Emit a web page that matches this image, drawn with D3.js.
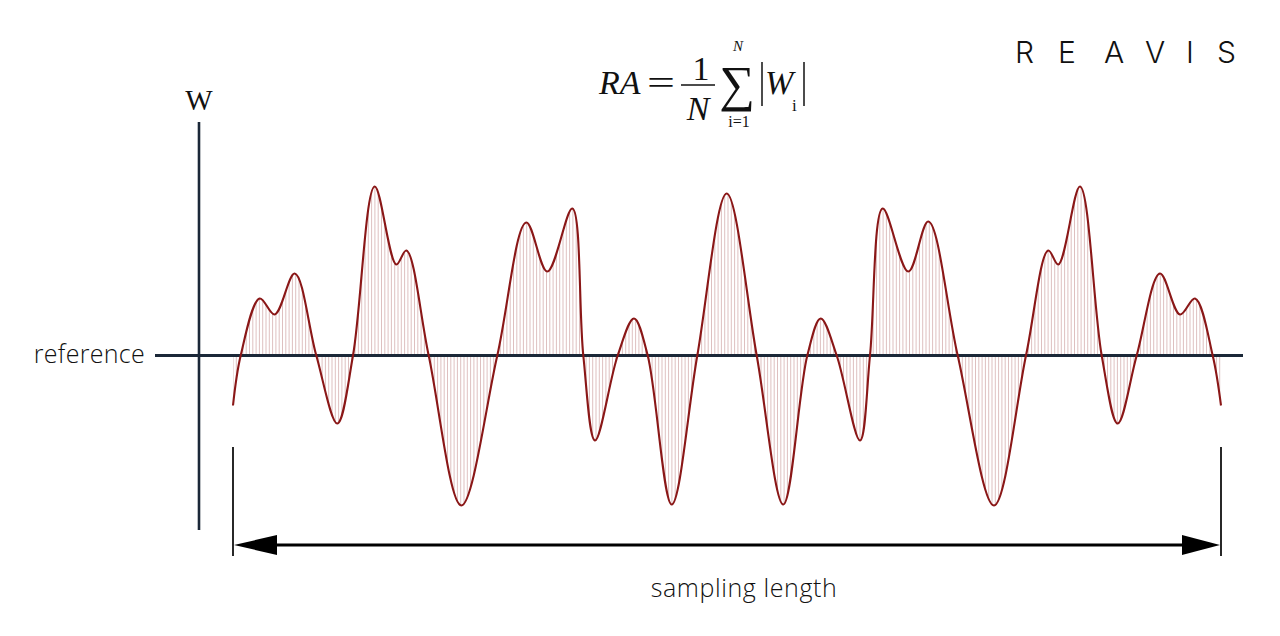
<!DOCTYPE html>
<html><head><meta charset="utf-8">
<script src="https://cdn.jsdelivr.net/npm/d3@7"></script>
<style>html,body{margin:0;padding:0;background:#fff;} svg{display:block}</style>
</head><body>
<svg id="chart" width="1280" height="636"></svg>
<script>
// ---- data: profile samples (distance along sampling length, deviation W from reference) ----
const profileX = [0, 7.7, 26.7, 41.7, 61.7, 83.3, 104.3, 120, 141.7, 163.3, 173.3, 195.7, 228.3, 264.3,
  293.3, 314.3, 339.3, 350.3, 362, 384.7, 401, 414.7, 438.7, 464.3, 493.7, 523.7, 550.3, 574.3,
  587.7, 603.7, 627, 637, 649.7, 675.3, 695.3, 724.7, 761, 793, 815.3, 825.3, 847, 868.7, 884.7,
  903.7, 927, 947, 962, 979.7, 988];
const profileW = [-50, 0, 57, 41, 82, 0, -68, 0, 169, 91, 105, 0, -150, 0,
  133, 84, 147, 0, -85, 0, 37, 0, -149, 0, 162, 0, -149, 0,
  37, 0, -85, 0, 147, 84, 134, 0, -150, 0, 105, 91, 169, 0, -68,
  0, 82, 41, 57, 0, -50];
const labels = { axis: "W", reference: "reference", length: "sampling length", brand: "REAVIS" };

const svg = d3.select("#chart");
const x = d3.scaleLinear().domain([0, 988]).range([233, 1221]);
const y = d3.scaleLinear().domain([-200, 200]).range([555.5, 155.5]);
const data = profileX.map((d, i) => ({ x: d, w: profileW[i] }));
const curve = d3.curveCatmullRom.alpha(0.5);

const ink = "#1b2838";
const waveColor = "#8a1717";

// hatch clip: area between reference and profile
const area = d3.area().x(d => x(d.x)).y0(y(0)).y1(d => y(d.w)).curve(curve);
svg.append("defs").append("clipPath").attr("id", "hatchClip")
  .append("path").attr("d", area(data));

const hatchX = d3.range(x(0), x(988), 3.3);
svg.append("g").attr("clip-path", "url(#hatchClip)")
  .selectAll("line").data(hatchX).join("line")
  .attr("x1", d => d).attr("x2", d => d)
  .attr("y1", 150).attr("y2", 560)
  .attr("stroke", "#c48e8e").attr("stroke-width", 0.8).attr("stroke-opacity", 0.7);

// vertical W axis
svg.append("line").attr("x1", x(-34)).attr("x2", x(-34)).attr("y1", 122).attr("y2", 530)
  .attr("stroke", ink).attr("stroke-width", 2.6);
// reference line
svg.append("line").attr("x1", x(-78)).attr("x2", x(1010)).attr("y1", y(0)).attr("y2", y(0))
  .attr("stroke", ink).attr("stroke-width", 3);

// profile curve
const line = d3.line().x(d => x(d.x)).y(d => y(d.w)).curve(curve);
svg.append("path").attr("d", line(data)).attr("fill", "none")
  .attr("stroke", waveColor).attr("stroke-width", 2.1);

// sampling length dimension
const dimY = 545;
[0, 988].forEach(v => {
  svg.append("line").attr("x1", x(v)).attr("x2", x(v)).attr("y1", 447).attr("y2", 556)
    .attr("stroke", "#111").attr("stroke-width", 1.8);
});
svg.append("line").attr("x1", x(0) + 30).attr("x2", x(988) - 30).attr("y1", dimY).attr("y2", dimY)
  .attr("stroke", "#000").attr("stroke-width", 3);
const xl = x(0) + 1, xr = x(988) - 1;
svg.append("path").attr("d", `M${xl},${dimY} L${xl + 43},${dimY - 10} L${xl + 43},${dimY + 10} Z`).attr("fill", "#000");
svg.append("path").attr("d", `M${xr},${dimY} L${xr - 38},${dimY - 10} L${xr - 38},${dimY + 10} Z`).attr("fill", "#000");

const sans = "'Open Sans', 'Noto Sans', sans-serif";
const serif = "'Liberation Serif', 'Times New Roman', serif";

svg.append("text").attr("x", 744).attr("y", 597).attr("text-anchor", "middle")
  .attr("font-family", sans).attr("font-weight", 300).attr("font-size", 25).attr("letter-spacing", 0.6).attr("fill", "#111")
  .text(labels.length);
svg.append("text").attr("x", 145).attr("y", 363).attr("text-anchor", "end")
  .attr("font-family", sans).attr("font-weight", 300).attr("font-size", 25).attr("letter-spacing", 0.3).attr("fill", "#111")
  .text(labels.reference);
svg.append("text").attr("x", 199).attr("y", 110).attr("text-anchor", "middle")
  .attr("font-family", serif).attr("font-size", 29).attr("fill", "#111")
  .text(labels.axis);

// brand
svg.append("text").attr("x", "1015 1058 1104 1145 1186 1217").attr("y", 63)
  .attr("font-family", "Inter, 'DejaVu Sans', sans-serif").attr("font-weight", 300)
  .attr("font-size", 30).attr("fill", "#111").text(labels.brand);

// formula RA = 1/N sum |W_i|
const f = svg.append("g").attr("font-family", serif).attr("fill", "#111");
f.append("text").attr("x", 599).attr("y", 94).attr("font-size", 34).attr("font-style", "italic").text("RA");
f.append("text").attr("x", 647).attr("y", 94).attr("font-size", 33)
  .attr("textLength", 28).attr("lengthAdjust", "spacingAndGlyphs").text("=");
f.append("text").attr("x", 701).attr("y", 80).attr("font-size", 34).attr("text-anchor", "middle").text("1");
f.append("line").attr("x1", 681).attr("x2", 715).attr("y1", 85).attr("y2", 85).attr("stroke", "#111").attr("stroke-width", 1.5);
f.append("text").attr("x", 698).attr("y", 120).attr("font-size", 34).attr("font-style", "italic").attr("text-anchor", "middle").text("N");
f.append("text").attr("x", 737).attr("y", 101).attr("font-size", 50).attr("text-anchor", "middle").text("∑");
f.append("text").attr("x", 738).attr("y", 51).attr("font-size", 15).attr("font-style", "italic").attr("text-anchor", "middle").text("N");
f.append("text").attr("x", 739).attr("y", 127).attr("font-size", 16).attr("text-anchor", "middle").text("i=1");
f.append("line").attr("x1", 762).attr("x2", 762).attr("y1", 62).attr("y2", 106).attr("stroke", "#111").attr("stroke-width", 1.5);
f.append("text").attr("x", 765).attr("y", 94).attr("font-size", 34).attr("font-style", "italic").text("W");
f.append("text").attr("x", 792).attr("y", 111).attr("font-size", 17).text("i");
f.append("line").attr("x1", 804).attr("x2", 804).attr("y1", 62).attr("y2", 106).attr("stroke", "#111").attr("stroke-width", 1.5);
</script>
</body></html>
